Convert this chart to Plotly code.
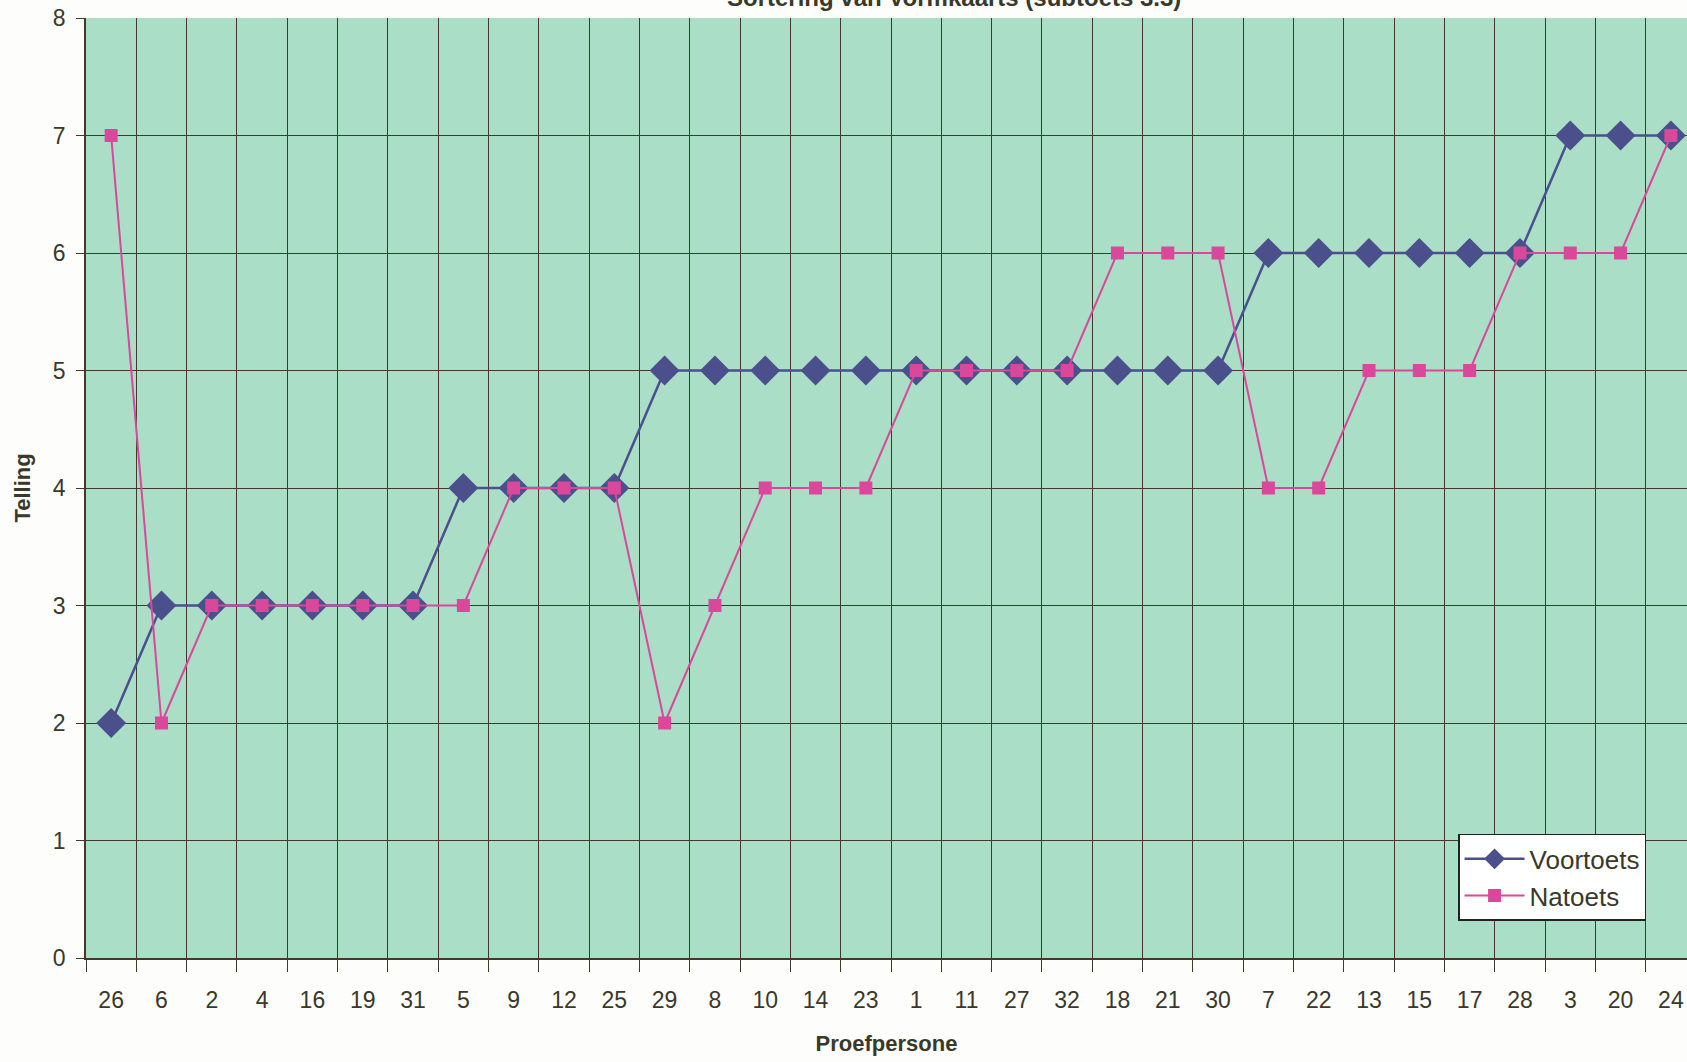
import plotly.graph_objects as go

categories = ["26", "6", "2", "4", "16", "19", "31", "5", "9", "12", "25", "29", "8", "10", "14", "23",
              "1", "11", "27", "32", "18", "21", "30", "7", "22", "13", "15", "17", "28", "3", "20", "24"]
voortoets = [2, 3, 3, 3, 3, 3, 3, 4, 4, 4, 4, 5, 5, 5, 5, 5,
             5, 5, 5, 5, 5, 5, 5, 6, 6, 6, 6, 6, 6, 7, 7, 7]
natoets = [7, 2, 3, 3, 3, 3, 3, 3, 4, 4, 4, 2, 3, 4, 4, 4,
           5, 5, 5, 5, 6, 6, 6, 4, 4, 5, 5, 5, 6, 6, 6, 7]
y_ticks = [0, 1, 2, 3, 4, 5, 6, 7, 8]

FONT = "Arial, Liberation Sans, sans-serif"
TXT = "#3a3828"
GRID = "#43392b"

fig = go.Figure()
fig.add_trace(go.Scatter(
    x=categories, y=voortoets, name="Voortoets", mode="lines+markers",
    line=dict(color="#4b4f8c", width=2.5),
    marker=dict(symbol="diamond", size=23, color="#4b4f8c"),
    cliponaxis=False,
))
fig.add_trace(go.Scatter(
    x=categories, y=natoets, name="Natoets", mode="lines+markers",
    line=dict(color="#d9489a", width=2),
    marker=dict(symbol="square", size=13, color="#d9489a"),
    cliponaxis=False,
))

fig.update_layout(
    width=1687, height=1062,
    margin=dict(l=86, r=0, t=18, b=104),
    paper_bgcolor="#fdfdfb",
    plot_bgcolor="#aadec6",
    font=dict(family=FONT, color=TXT, size=23),
    showlegend=True,
    legend=dict(
        x=0.857, y=0.132, xanchor="left", yanchor="top",
        bgcolor="white", bordercolor="#222", borderwidth=1.5,
        font=dict(size=26, color=TXT), tracegroupgap=0, itemwidth=60,
    ),
    annotations=[dict(
        text="<b>Sortering van Vormkaarts (subtoets 3.3)</b>",
        xref="paper", yref="paper", x=0.542, y=1.0, yanchor="bottom", yshift=5,
        showarrow=False, font=dict(size=24, family=FONT, color=TXT),
    )],
)

fig.update_xaxes(
    type="category", range=[-0.5, 31.32],
    tickson="boundaries", ticks="outside", ticklen=12, tickcolor=GRID, tickwidth=1.2,
    ticklabelstandoff=20,
    showgrid=True, gridcolor=GRID, gridwidth=1.3,
    showline=True, linecolor=GRID, linewidth=2,
    tickfont=dict(size=23, color=TXT),
    title=dict(text="<b>Proefpersone</b>", font=dict(size=22, color=TXT), standoff=24),
)
fig.update_yaxes(
    range=[0, 8], tickvals=y_ticks, ticktext=[str(v) for v in y_ticks],
    ticks="outside", ticklen=8, tickcolor=GRID,
    ticklabelstandoff=6,
    showgrid=True, gridcolor=GRID, gridwidth=1.3,
    showline=True, linecolor=GRID, linewidth=1.5,
    zeroline=False,
    tickfont=dict(size=23, color=TXT),
    title=dict(text="<b>Telling</b>", font=dict(size=22, color=TXT), standoff=16),
)

fig.write_html("out.html", config={"displayModeBar": False},
               post_script="document.body.style.margin='0';document.body.style.overflow='hidden';")
